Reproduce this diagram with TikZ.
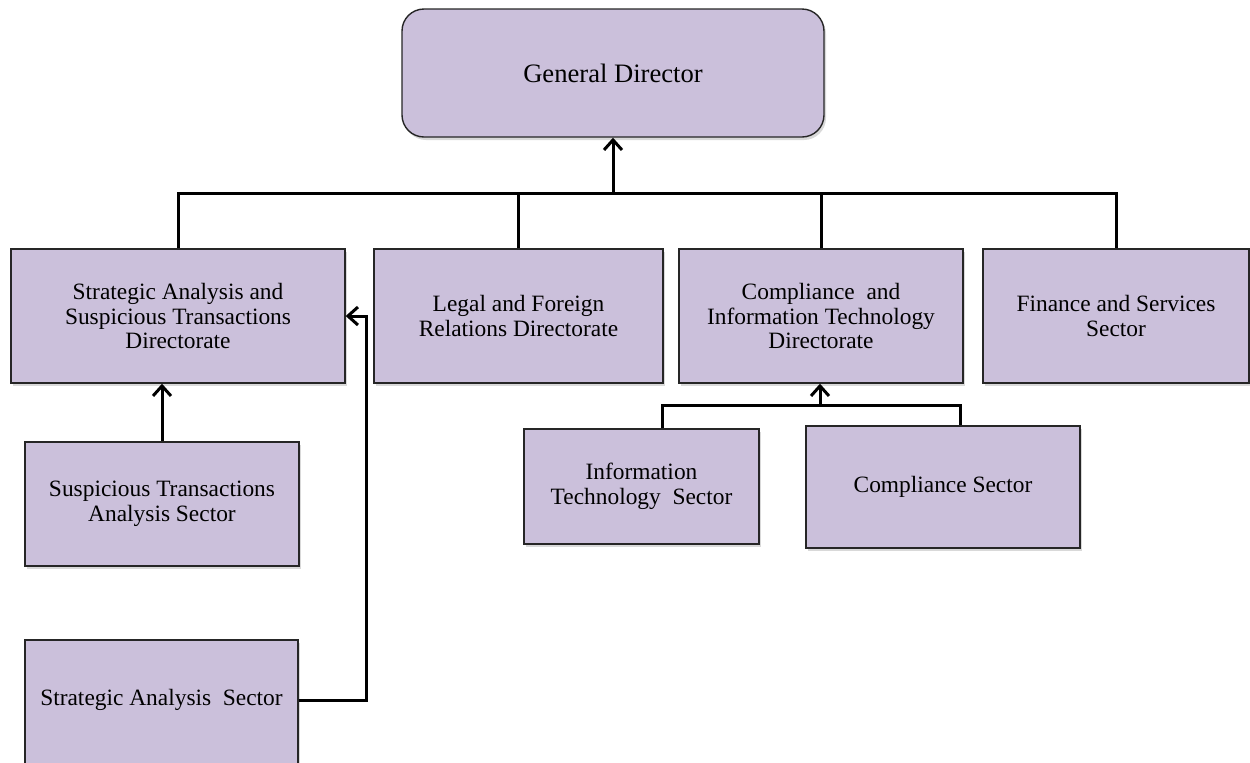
\documentclass[tikz,border=0pt]{standalone}
\usepackage{fontspec}
\setmainfont{Liberation Serif}
\usetikzlibrary{arrows.meta,shadows}
\definecolor{boxfill}{RGB}{203,192,219}
\begin{document}
\begin{tikzpicture}[x=0.5pt,y=-0.5pt,
  orgbox/.style={draw=black!85,line width=0.7pt,fill=boxfill,align=center,
    inner sep=0pt,font=\fontsize{11.7}{12.4}\selectfont,
    drop shadow={shadow xshift=1pt,shadow yshift=-1.5pt,opacity=0.3}},
  conn/.style={line width=1.5pt,black},
  arr/.style={-{Straight Barb[length=5pt,width=9pt,line width=1.5pt]}}]
  \path[use as bounding box,clip] (0,0) rectangle (1250,762);

  % top level
  \node[orgbox,rounded corners=11pt,minimum width=211pt,minimum height=64pt,
        font=\fontsize{13.3}{14}\selectfont] (gd) at (613,73) {General Director};

  % directorates and sectors reporting to the director
  \node[orgbox,minimum width=167pt,minimum height=67pt] (sast) at (178,316)
    {Strategic Analysis and\\Suspicious Transactions\\Directorate};
  \node[orgbox,minimum width=144.5pt,minimum height=67pt] (legal) at (518.5,316)
    {Legal and Foreign\\Relations Directorate};
  \node[orgbox,minimum width=142pt,minimum height=67pt] (cit) at (821,316)
    {Compliance\ \ and\\Information Technology\\Directorate};
  \node[orgbox,minimum width=133pt,minimum height=67pt] (fin) at (1116,316)
    {Finance and Services\\Sector};

  % sectors under the directorates
  \node[orgbox,minimum width=137pt,minimum height=62pt] (stas) at (162,504)
    {Suspicious Transactions\\Analysis Sector};
  \node[orgbox,minimum width=136.5pt,minimum height=65pt,
        text height=8pt,text depth=7.5pt] (sas) at (161.5,705)
    {Strategic Analysis\ \ Sector};
  \node[orgbox,minimum width=117.5pt,minimum height=57.5pt] (it) at (641.5,486.5)
    {Information\\Technology\ \ Sector};
  \node[orgbox,minimum width=137pt,minimum height=61pt] (cs) at (943,487)
    {Compliance Sector};

  % helper points for the connector routes
  \coordinate (bus) at (613,193);
  \coordinate (sasbend) at (366,316);
  \coordinate (sasout) at (298,700);
  \coordinate (cbus) at (820,405);
  \coordinate (itx) at (662,0);
  \coordinate (csx) at (960,0);

  % director level bus
  \draw[conn] (sast.north) |- (bus) -| (fin.north);
  \draw[conn] (legal.north) -- (legal.north |- bus);
  \draw[conn] (cit.north) -- (cit.north |- bus);
  \draw[conn,arr] (bus) -- (gd.south);

  % strategic analysis branch
  \draw[conn,arr] (stas.north) -- (stas.north |- sast.south);
  \draw[conn,arr] (sas.east |- sasout) -| (sasbend) -- (sast.east);

  % compliance and IT branch
  \draw[conn] (it.north -| itx) |- (cbus) -| (cs.north -| csx);
  \draw[conn,arr] (cbus) -- (cbus |- cit.south);
\end{tikzpicture}
\end{document}
